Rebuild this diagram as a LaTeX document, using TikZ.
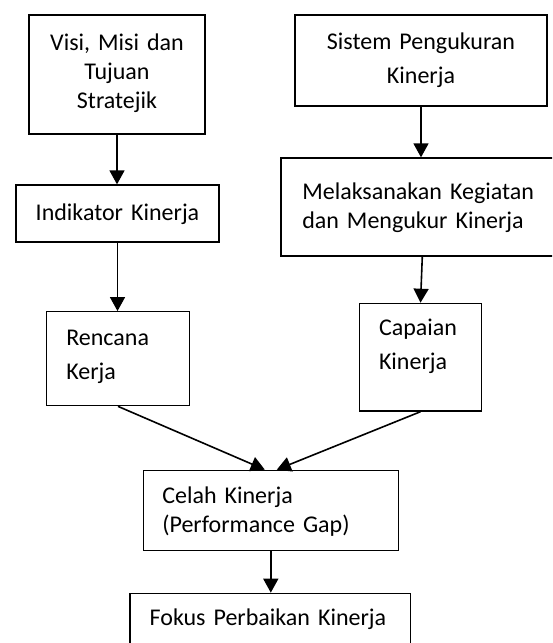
\documentclass[tikz,border=0pt]{standalone}
\usepackage{fontspec}
\setmainfont{Carlito}
\usetikzlibrary{arrows.meta}
\newcommand{\boxfont}{\fontsize{24pt}{29pt}\selectfont}
\newcommand{\boxfontwide}{\fontsize{24pt}{34pt}\selectfont}
\tikzset{box/.style={draw,line width=1.3pt,font=\boxfont,align=left,inner ysep=0pt,text height=16pt},centerbox/.style={box,align=center,inner xsep=6pt},wide/.style={font=\boxfontwide},flow/.style={-{Triangle[length=14pt,width=15pt]},line width=1.6pt}}

\begin{document}
\begin{tikzpicture}[x=1pt,y=-1pt]
        \useasboundingbox(0,0)rectangle(552,643);
        \clip(0,0)rectangle(552,643);
        \node[centerbox,line width=2.4pt,text width=164pt,minimum height=119pt,text depth=65pt](visi)at(117,74.5){Visi, Misi dan\\Tujuan\\Stratejik};
        \node[centerbox,text width=191pt,minimum height=57pt,text depth=3pt](indik)at(117.5,213.5){Indikator Kinerja};
        \node[box,wide,inner xsep=19.6pt,text width=103.4pt,minimum height=94pt,text depth=43.4pt](renc)at(118,358.7){Rencana\\Kerja};
        \node[centerbox,wide,text width=240pt,minimum height=91pt,text depth=39pt](sistem)at(421,60.5){Sistem Pengukuran\\Kinerja};
        \node[box,inner xsep=21.3pt,text width=240pt,minimum height=98pt,text depth=32pt](melak)at(422.3,207){Melaksanakan Kegiatan\\dan Mengukur Kinerja};
        \node[box,wide,inner xsep=19.7pt,text width=83pt,minimum height=107.7pt,text depth=59pt](capai)at(420.5,357.2){Capaian\\Kinerja};
        \node[box,inner xsep=19pt,text width=217pt,minimum height=80pt,text depth=30pt](celah)at(270.8,510.3){Celah Kinerja\\(Performance Gap)};
        \node[box,inner xsep=19.7pt,text width=241pt,minimum height=54pt,text depth=6.6pt](fokus)at(270.15,620.3){Fokus Perbaikan Kinerja};
        \draw[flow](visi.south)--(visi.south|-indik.north);
        \draw[flow](indik.south)--(indik.south|-renc.north);
        \draw[flow](sistem.south)--(sistem.south|-melak.north);
        \draw[flow](melak.south)--(capai.north);
        \draw[flow](renc.south)--([xshift=-6pt]celah.north);
        \draw[flow](capai.south)--([xshift=6pt]celah.north);
        \draw[flow](celah.south)--(celah.south|-fokus.north);
      \end{tikzpicture}
\end{document}
